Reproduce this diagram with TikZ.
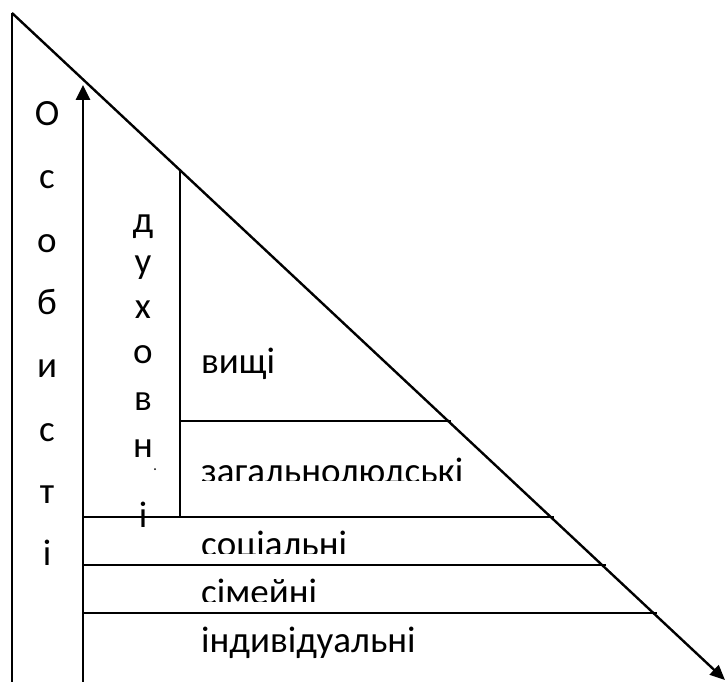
\documentclass[tikz,border=0pt]{standalone}
\usepackage{fontspec}
\setmainfont{Carlito}
\usetikzlibrary{arrows.meta}
\begin{document}
\begin{tikzpicture}[x=1pt,y=-1pt,
  lbl/.style={anchor=base west, inner sep=0pt, font=\fontsize{37}{44}\selectfont},
  ltr/.style={anchor=base, inner sep=0pt, font=\fontsize{37}{44}\selectfont},
  frame/.style={line width=2pt},
  axis/.style={line width=2.6pt, -{Triangle[length=15pt,width=14pt]}},
  diag/.style={line width=2.4pt, -{Triangle[length=15pt,width=13pt]}},
  hline/.style={line width=2pt},
  vline/.style={line width=1.5pt}]
\useasboundingbox (0,0) rectangle (725,682);
% coordinates
\coordinate (top) at (12,13);
\coordinate (lb) at (12,682);
\coordinate (ab) at (83,682);
\coordinate (at) at (83,85);
\coordinate (dend) at (725,680);
\coordinate (it) at (180,169);
\coordinate (ib) at (180,517);
\coordinate (h1a) at (180,421); \coordinate (h1b) at (451,421);
\coordinate (h2a) at (83,517);  \coordinate (h2b) at (554,517);
\coordinate (h3a) at (83,565);  \coordinate (h3b) at (606,565);
\coordinate (h4a) at (83,613);  \coordinate (h4b) at (657,613);
% lines
\draw[frame] (top) -- (lb);
\draw[diag] (top) -- (dend);
\draw[axis] (ab) -- (at);
\draw[vline] (it) -- (ib);
\draw[vline] (h1a) -- (h1b);
\draw[hline] (h2a) -- (h2b);
\draw[hline] (h3a) -- (h3b);
\draw[hline] (h4a) -- (h4b);
% vertical word: Особисті
\node[ltr] (o1) at (47,125) {О};
\node[ltr] (o2) at (47,188) {с};
\node[ltr] (o3) at (47,252) {о};
\node[ltr] (o4) at (47,314) {б};
\node[ltr] (o5) at (47,377) {и};
\node[ltr] (o6) at (47,441) {с};
\node[ltr] (o7) at (47,503) {т};
\node[ltr] (o8) at (47,565) {і};
% vertical word: духовні
\node[ltr] (d1) at (143,232) {д};
\node[ltr] (d2) at (143,273) {у};
\node[ltr] (d3) at (143,318) {х};
\node[ltr] (d4) at (143,363) {о};
\node[ltr] (d5) at (143,410) {в};
\node[ltr] (d6) at (143,457) {н};
\fill (155,469) circle (1pt);
\node[ltr] (d7) at (143,527) {і};
% level labels
\node[lbl] (l1) at (201,373) {вищі};
\begin{scope}
  \clip (0,0) rectangle (725,480);
  \node[lbl] (l2) at (201,483) {загальнолюдські};
\end{scope}
\begin{scope}
  \clip (0,0) rectangle (725,553);
  \node[lbl] (l3) at (201,556) {соціальні};
\end{scope}
\begin{scope}
  \clip (0,0) rectangle (725,601);
  \node[lbl] (l4) at (201,604) {сімейні};
\end{scope}
\node[lbl] (l5) at (201,652) {індивідуальні};
\end{tikzpicture}
\end{document}
